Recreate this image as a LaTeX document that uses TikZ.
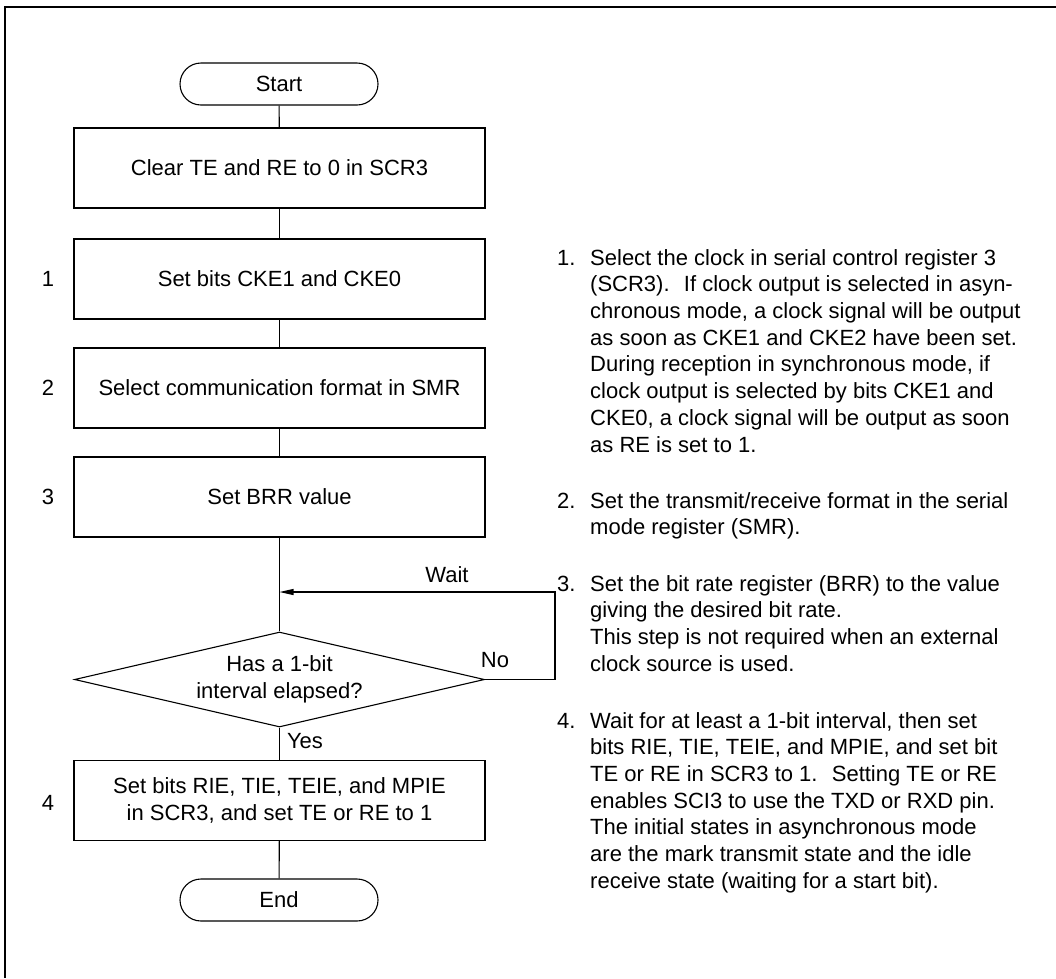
\documentclass[tikz,border=0pt]{standalone}
\usepackage{fontspec}
\setmainfont{Liberation Sans}
\usetikzlibrary{shapes.geometric,arrows.meta}
\tikzset{
  proc/.style={draw, line width=1.1pt, rectangle, minimum width=411pt,
    minimum height=80pt, inner sep=0pt, align=center},
  term/.style={draw, line width=1.1pt, rectangle, rounded corners=21pt,
    minimum width=198pt, minimum height=42pt, inner sep=0pt},
  decide/.style={draw, line width=1.1pt, diamond, aspect=4.3,
    minimum width=410pt, minimum height=95pt, inner sep=0pt, align=center},
  note/.style={inner sep=0pt, align=left},
  link/.style={line width=1.1pt}
}
\begin{document}
\begin{tikzpicture}[x=1pt, y=-1pt, font=\fontsize{22}{26.7}\selectfont]
  \useasboundingbox (0,0) rectangle (1056,978);
  % Cadre (haut et gauche)
  \draw[line width=1.6pt] (1056,7) -- (5,7) -- (5,978);
  % Organigramme
  \node[term] (start) at (279,84) {Start};
  \node[proc] (clr) at (279.5,168) {Clear TE and RE to 0 in SCR3};
  \node[proc] (cke) at (279.5,279) {Set bits CKE1 and CKE0};
  \node[proc] (smr) at (279.5,388) {Select communication format in SMR};
  \node[proc] (brr) at (279.5,497) {Set BRR value};
  \node[decide] (bit) at (279.5,679.5) {Has a 1-bit\\interval elapsed?};
  \node[proc] (ena) at (279.5,800.5) {Set bits RIE, TIE, TEIE, and MPIE\\in SCR3, and set TE or RE to 1};
  \node[term] (end) at (279,900) {End};
  % Liaisons
  \draw[link] (start) -- (clr);
  \draw[link] (clr) -- (cke);
  \draw[link] (cke) -- (smr);
  \draw[link] (smr) -- (brr);
  \draw[link] (brr) -- (bit);
  \draw[link] (bit) -- (ena);
  \draw[link] (ena) -- (end);
  % Boucle d'attente
  \coordinate (back) at (555,592);
  \draw[link, -{Triangle[length=14pt, width=6pt]}] (bit.east) -| (back) -- (back -| bit.north);
  \node (wait) at (447,575) {Wait};
  \node (no) at (495,660) {No};
  \node (yes) at (305,741) {Yes};
  % Num\'eros des \'etapes
  \node (n1) at (48,279) {1};
  \node (n2) at (48,388) {2};
  \node (n3) at (48,497) {3};
  \node (n4) at (48,803) {4};
  % Notes
  \node[note, anchor=base west] (k1) at (557,265) {1.};
  \node[note, anchor=north west] (t1) at (590,249) {Select the clock in serial control register 3\\
    (SCR3).~ If clock output is selected in asyn-\\
    chronous mode, a clock signal will be output\\
    as soon as CKE1 and CKE2 have been set.\\
    During reception in synchronous mode, if\\
    clock output is selected by bits CKE1 and\\
    CKE0, a clock signal will be output as soon\\
    as RE is set to 1.};
  \node[note, anchor=base west] (k2) at (557,508) {2.};
  \node[note, anchor=north west] (t2) at (590,492) {Set the transmit/receive format in the serial\\
    mode register (SMR).};
  \node[note, anchor=base west] (k3) at (557,591) {3.};
  \node[note, anchor=north west] (t3) at (590,575) {Set the bit rate register (BRR) to the value\\
    giving the desired bit rate.\\
    This step is not required when an external\\
    clock source is used.};
  \node[note, anchor=base west] (k4) at (557,728) {4.};
  \node[note, anchor=north west] (t4) at (590,712) {Wait for at least a 1-bit interval, then set\\
    bits RIE, TIE, TEIE, and MPIE, and set bit\\
    TE or RE in SCR3 to 1.~ Setting TE or RE\\
    enables SCI3 to use the TXD or RXD pin.\\
    The initial states in asynchronous mode\\
    are the mark transmit state and the idle\\
    receive state (waiting for a start bit).};
\end{tikzpicture}
\end{document}
